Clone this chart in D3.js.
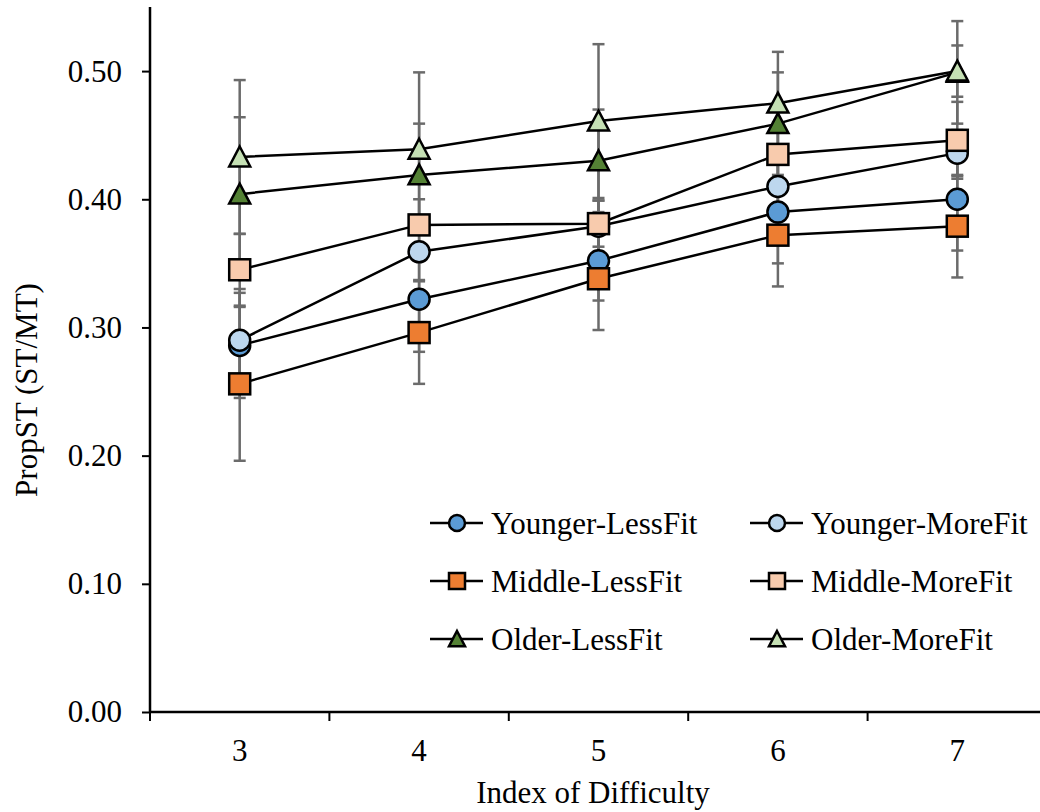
<!DOCTYPE html>
<html>
<head>
<meta charset="utf-8">
<script src="https://cdn.jsdelivr.net/npm/d3@7"></script>
<style>
html,body{margin:0;padding:0;background:#fff;}
svg{display:block;}
text{font-family:"Liberation Serif","Times New Roman",serif;fill:#000;}
</style>
</head>
<body>
<svg id="chart" width="1040" height="812"></svg>
<script>
const categories = ["3","4","5","6","7"];
const seriesNames = ["Younger-LessFit","Younger-MoreFit","Middle-LessFit","Middle-MoreFit","Older-LessFit","Older-MoreFit"];
const youngerLessFit = [0.286,0.322,0.352,0.390,0.400];
const youngerMoreFit = [0.290,0.359,0.379,0.410,0.436];
const middleLessFit  = [0.256,0.296,0.338,0.372,0.379];
const middleMoreFit  = [0.345,0.380,0.381,0.435,0.446];
const olderLessFit   = [0.404,0.419,0.430,0.459,0.499];
const olderMoreFit   = [0.433,0.439,0.461,0.475,0.500];
const errYoungerLessFit = [0.041,0.041,0.031,0.040,0.040];
const errYoungerMoreFit = [0.040,0.022,0.020,0.025,0.018];
const errMiddleLessFit  = [0.060,0.040,0.040,0.040,0.040];
const errMiddleMoreFit  = [0.028,0.020,0.018,0.025,0.030];
const errOlderLessFit   = [0.060,0.040,0.040,0.040,0.040];
const errOlderMoreFit   = [0.060,0.060,0.060,0.040,0.020];
const yTicks = [0,0.1,0.2,0.3,0.4,0.5];
const xTitle = "Index of Difficulty";
const yTitle = "PropST (ST/MT)";

const colors = ["#5B9BD5","#BDD7EE","#ED7D31","#F8CBAD","#548235","#C5E0B4"];
const shapes = ["circle","circle","square","square","triangle","triangle"];
const values = [youngerLessFit,youngerMoreFit,middleLessFit,middleMoreFit,olderLessFit,olderMoreFit];
const errors = [errYoungerLessFit,errYoungerMoreFit,errMiddleLessFit,errMiddleMoreFit,errOlderLessFit,errOlderMoreFit];
const series = seriesNames.map((n,i)=>({name:n,color:colors[i],shape:shapes[i],
  pts:categories.map((c,j)=>({c:c,v:values[i][j],e:errors[i][j]}))}));

const svg = d3.select("#chart");
const x = d3.scaleBand().domain(categories).range([150,1047]);
const y = d3.scaleLinear().domain([0,0.55]).range([712,7]);
const cx = c => x(c) + x.bandwidth()/2;

// axes
const yAxis = svg.append("g").attr("transform","translate(150,0)")
  .call(d3.axisLeft(y).tickValues(yTicks).tickFormat(d3.format(".2f")).tickSize(8).tickPadding(20));
yAxis.select(".domain").attr("d","M0,7V712").attr("stroke","#000").attr("stroke-width",2.5);
yAxis.selectAll(".tick line").attr("stroke","#000").attr("stroke-width",2);
yAxis.selectAll("text").style("font-size","31px").style("font-family","Liberation Serif");

const xAxis = svg.append("g").attr("transform","translate(0,712)")
  .call(d3.axisBottom(x).tickSize(0).tickPadding(0));
xAxis.select(".domain").attr("d","M150,0H1047").attr("stroke","#000").attr("stroke-width",2.5);
xAxis.selectAll(".tick text").attr("y",49).attr("dy","0").style("font-size","31px").style("font-family","Liberation Serif");
xAxis.selectAll(".tick line").remove();
// boundary ticks between categories
const bounds = categories.map(c=>x(c)).concat([x(categories[categories.length-1])+x.bandwidth()]);
svg.append("g").selectAll("line").data(bounds).join("line")
  .attr("x1",d=>d).attr("x2",d=>d).attr("y1",712).attr("y2",721)
  .attr("stroke","#000").attr("stroke-width",2);

// titles
svg.append("text").attr("x",593).attr("y",803).attr("text-anchor","middle")
  .style("font-size","31px").text(xTitle);
svg.append("text").attr("transform","translate(37,390) rotate(-90)").attr("text-anchor","middle")
  .style("font-size","31px").text(yTitle);

// error bars
const eb = svg.append("g");
series.forEach(s=>{
  s.pts.forEach(p=>{
    const X = cx(p.c);
    eb.append("line").attr("x1",X).attr("x2",X).attr("y1",y(p.v+p.e)).attr("y2",y(p.v-p.e))
      .attr("stroke","#6b6b6b").attr("stroke-width",2.5);
    [p.v+p.e,p.v-p.e].forEach(v=>{
      eb.append("line").attr("x1",X-6).attr("x2",X+6).attr("y1",y(v)).attr("y2",y(v))
        .attr("stroke","#6b6b6b").attr("stroke-width",2.5);
    });
  });
});

// lines
const line = d3.line().x(d=>cx(d.c)).y(d=>y(d.v));
svg.append("g").selectAll("path").data(series).join("path")
  .attr("d",d=>line(d.pts)).attr("fill","none").attr("stroke","#000").attr("stroke-width",2.5);

// markers
function drawMarker(g, shape, X, Y, size, fill){
  if(shape==="circle"){
    g.append("circle").attr("cx",X).attr("cy",Y).attr("r",size/2)
      .attr("fill",fill).attr("stroke","#000").attr("stroke-width",2.5);
  } else if(shape==="square"){
    g.append("rect").attr("x",X-size/2).attr("y",Y-size/2).attr("width",size).attr("height",size)
      .attr("fill",fill).attr("stroke","#000").attr("stroke-width",2.5);
  } else {
    const h = size;
    g.append("path").attr("d",`M${X},${Y-h*0.5}L${X+size/2},${Y+h*0.45}L${X-size/2},${Y+h*0.45}Z`)
      .attr("fill",fill).attr("stroke","#000").attr("stroke-width",2.5).attr("stroke-linejoin","miter");
  }
}
const mg = svg.append("g");
series.forEach(s=>{
  s.pts.forEach(p=>drawMarker(mg, s.shape, cx(p.c), y(p.v), 21, s.color));
});

// legend
const legendCols = [430,750];
const legendRows = [523,581,639];
const lg = svg.append("g");
series.forEach((s,i)=>{
  const col = i%2, row = Math.floor(i/2);
  const lx = legendCols[col], ly = legendRows[row];
  lg.append("line").attr("x1",lx).attr("x2",lx+53).attr("y1",ly).attr("y2",ly)
    .attr("stroke","#000").attr("stroke-width",2.5);
  drawMarker(lg, s.shape, lx+27, ly, 16, s.color);
  lg.append("text").attr("x",lx+61).attr("y",ly+11).style("font-size","31px").text(s.name);
});
</script>
</body>
</html>
